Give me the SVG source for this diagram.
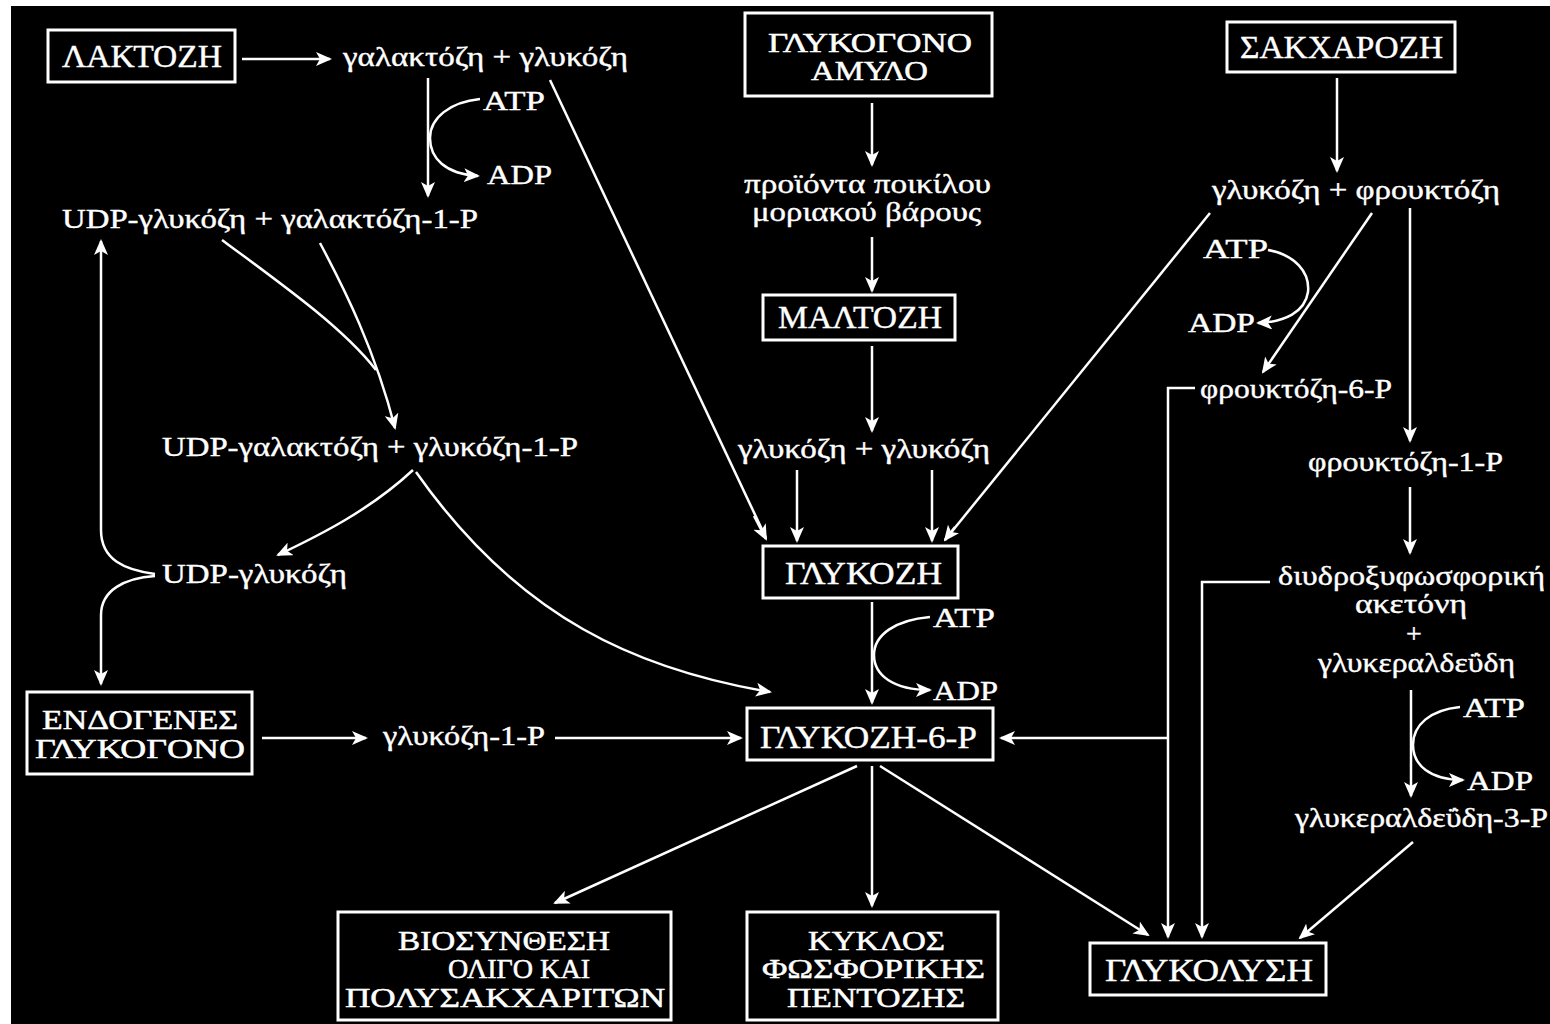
<svg xmlns="http://www.w3.org/2000/svg" width="1550" height="1024" viewBox="0 0 1550 1024">
<defs>
<marker id="ah" markerUnits="userSpaceOnUse" markerWidth="16" markerHeight="14" refX="14" refY="7" orient="auto">
<path d="M0,0 L16,7 L0,14 L4,7 Z" fill="#fff"/>
</marker>
<style>
.bx{fill:none;stroke:#fff;stroke-width:3}
.c{font-family:"Liberation Serif","Times New Roman",serif;font-size:31px;fill:#fff;stroke:#fff;stroke-width:0.4}
.m{font-family:"Liberation Serif","Times New Roman",serif;font-size:28px;fill:#fff;stroke:#fff;stroke-width:0.5}
.l{font-family:"Liberation Serif","Times New Roman",serif;font-size:28px;fill:#fff;stroke:#fff;stroke-width:0.4}
.e{fill:none;stroke:#fff;stroke-width:2.5}
.a{fill:none;stroke:#fff;stroke-width:2.5;marker-end:url(#ah)}
</style>
</defs>
<rect x="0" y="0" width="1550" height="1024" fill="#fff"/>
<rect x="11" y="6" width="1539" height="1018" fill="#000"/>

<g id="n-lactose"><rect class="bx" x="48" y="30" width="187" height="52"/><text class="c" x="62" y="67" textLength="160" lengthAdjust="spacingAndGlyphs">ΛΑΚΤΟΖΗ</text></g>
<g id="n-glycogen-starch"><rect class="bx" x="745" y="13" width="247" height="83"/><text class="m" x="768" y="52" textLength="204" lengthAdjust="spacingAndGlyphs">ΓΛΥΚΟΓΟΝΟ</text><text class="m" x="811" y="80" textLength="117" lengthAdjust="spacingAndGlyphs">ΑΜΥΛΟ</text></g>
<g id="n-sucrose"><rect class="bx" x="1227" y="22" width="228" height="50"/><text class="c" x="1240" y="58" textLength="203" lengthAdjust="spacingAndGlyphs">ΣΑΚΧΑΡΟΖΗ</text></g>
<g id="n-maltose"><rect class="bx" x="763" y="295" width="192" height="45"/><text class="c" x="778" y="328" textLength="164" lengthAdjust="spacingAndGlyphs">ΜΑΛΤΟΖΗ</text></g>
<g id="n-glucose"><rect class="bx" x="763" y="546" width="195" height="52"/><text class="c" x="785" y="584" textLength="157" lengthAdjust="spacingAndGlyphs">ΓΛΥΚΟΖΗ</text></g>
<g id="n-g6p"><rect class="bx" x="747" y="708" width="246" height="52"/><text class="c" x="760" y="748" textLength="217" lengthAdjust="spacingAndGlyphs">ΓΛΥΚΟΖΗ-6-P</text></g>
<g id="n-endogenous"><rect class="bx" x="27" y="692" width="225" height="82"/><text class="m" x="42" y="729" textLength="196" lengthAdjust="spacingAndGlyphs">ΕΝΔΟΓΕΝΕΣ</text><text class="m" x="35" y="758" textLength="210" lengthAdjust="spacingAndGlyphs">ΓΛΥΚΟΓΟΝΟ</text></g>
<g id="n-biosynthesis"><rect class="bx" x="338" y="912" width="333" height="108"/><text class="m" x="398" y="950" textLength="212" lengthAdjust="spacingAndGlyphs">ΒΙΟΣΥΝΘΕΣΗ</text><text class="m" x="448" y="978" textLength="142" lengthAdjust="spacingAndGlyphs">ΟΛΙΓΟ ΚΑΙ</text><text class="m" x="345" y="1007" textLength="320" lengthAdjust="spacingAndGlyphs">ΠΟΛΥΣΑΚΧΑΡΙΤΩΝ</text></g>
<g id="n-pentose"><rect class="bx" x="747" y="912" width="251" height="108"/><text class="m" x="808" y="950" textLength="137" lengthAdjust="spacingAndGlyphs">ΚΥΚΛΟΣ</text><text class="m" x="762" y="978" textLength="223" lengthAdjust="spacingAndGlyphs">ΦΩΣΦΟΡΙΚΗΣ</text><text class="m" x="787" y="1007" textLength="178" lengthAdjust="spacingAndGlyphs">ΠΕΝΤΟΖΗΣ</text></g>
<g id="n-glycolysis"><rect class="bx" x="1090" y="943" width="236" height="52"/><text class="c" x="1105" y="981" textLength="208" lengthAdjust="spacingAndGlyphs">ΓΛΥΚΟΛΥΣΗ</text></g>

<g id="n-gal-glc"><text class="l" x="343" y="66" textLength="285" lengthAdjust="spacingAndGlyphs">γαλακτόζη + γλυκόζη</text></g>
<g id="n-udpglc-gal1p"><text class="l" x="62" y="228" textLength="416" lengthAdjust="spacingAndGlyphs">UDP-γλυκόζη + γαλακτόζη-1-P</text></g>
<g id="n-udpgal-glc1p"><text class="l" x="162" y="456" textLength="416" lengthAdjust="spacingAndGlyphs">UDP-γαλακτόζη + γλυκόζη-1-P</text></g>
<g id="n-udpglc"><text class="l" x="162" y="583" textLength="185" lengthAdjust="spacingAndGlyphs">UDP-γλυκόζη</text></g>
<g id="n-glc1p"><text class="l" x="383" y="745" textLength="162" lengthAdjust="spacingAndGlyphs">γλυκόζη-1-P</text></g>
<g id="n-products"><text class="l" x="744" y="193" textLength="247" lengthAdjust="spacingAndGlyphs">προϊόντα ποικίλου</text><text class="l" x="752" y="221" textLength="229" lengthAdjust="spacingAndGlyphs">μοριακού βάρους</text></g>
<g id="n-glc-glc"><text class="l" x="738" y="458" textLength="252" lengthAdjust="spacingAndGlyphs">γλυκόζη + γλυκόζη</text></g>
<g id="n-glc-fru"><text class="l" x="1212" y="199" textLength="288" lengthAdjust="spacingAndGlyphs">γλυκόζη + φρουκτόζη</text></g>
<g id="n-f6p"><text class="l" x="1200" y="398" textLength="192" lengthAdjust="spacingAndGlyphs">φρουκτόζη-6-P</text></g>
<g id="n-f1p"><text class="l" x="1308" y="471" textLength="195" lengthAdjust="spacingAndGlyphs">φρουκτόζη-1-P</text></g>
<g id="n-dhap-gly"><text class="l" x="1278" y="585" textLength="267" lengthAdjust="spacingAndGlyphs">διυδροξυφωσφορική</text><text class="l" x="1355" y="613" textLength="112" lengthAdjust="spacingAndGlyphs">ακετόνη</text><text class="l" x="1414" y="643" text-anchor="middle">+</text><text class="l" x="1318" y="672" textLength="197" lengthAdjust="spacingAndGlyphs">γλυκεραλδεΰδη</text></g>
<g id="n-gly3p"><text class="l" x="1295" y="827" textLength="253" lengthAdjust="spacingAndGlyphs">γλυκεραλδεΰδη-3-P</text></g>

<g id="cofactors">
<text class="l" x="483" y="110" textLength="62" lengthAdjust="spacingAndGlyphs">ATP</text>
<text class="l" x="487" y="184" textLength="65" lengthAdjust="spacingAndGlyphs">ADP</text>
<text class="l" x="933" y="627" textLength="62" lengthAdjust="spacingAndGlyphs">ATP</text>
<text class="l" x="933" y="700" textLength="65" lengthAdjust="spacingAndGlyphs">ADP</text>
<text class="l" x="1203" y="258" textLength="65" lengthAdjust="spacingAndGlyphs">ATP</text>
<text class="l" x="1188" y="332" textLength="67" lengthAdjust="spacingAndGlyphs">ADP</text>
<text class="l" x="1463" y="717" textLength="62" lengthAdjust="spacingAndGlyphs">ATP</text>
<text class="l" x="1467" y="790" textLength="66" lengthAdjust="spacingAndGlyphs">ADP</text>
</g>

<g id="connectors">
<path class="a" d="M242,59 L330,59"/>
<path class="a" d="M428,78 L428,196"/>
<path class="a" d="M480,99 C450,102 430,118 430,138 C430,158 445,174 478,176"/>
<path class="e" d="M550,80 L766,538"/>
<path class="a" d="M754,516 L766,539"/>
<path class="e" d="M222,240 C290,290 345,330 376,370"/>
<path class="a" d="M320,243 C345,290 375,350 395,428"/>
<path class="a" d="M413,470 C370,510 320,535 278,555"/>
<path class="a" d="M416,472 C520,620 640,670 770,692"/>
<path class="a" d="M155,574 C125,570 101,560 101,530 L101,241"/>
<path class="a" d="M155,576 C125,578 101,590 101,615 L101,684"/>
<path class="a" d="M262,738 L366,738"/>
<path class="a" d="M555,738 L741,738"/>
<path class="a" d="M872,103 L872,165"/>
<path class="a" d="M872,237 L872,291"/>
<path class="a" d="M872,346 L872,431"/>
<path class="a" d="M797,470 L797,541"/>
<path class="a" d="M932,470 L932,541"/>
<path class="e" d="M1210,213 L945,540"/>
<path class="a" d="M955,527 L945,540"/>
<path class="a" d="M872,602 L872,703"/>
<path class="a" d="M930,617 C895,620 874,635 874,655 C874,675 893,690 930,690"/>
<path class="a" d="M1337,78 L1337,171"/>
<path class="a" d="M1372,213 L1263,372"/>
<path class="a" d="M1268,250 C1295,255 1310,272 1308,292 C1305,312 1285,322 1258,323"/>
<path class="a" d="M1410,208 L1410,441"/>
<path class="a" d="M1410,487 L1410,553"/>
<path class="a" d="M1195,388 L1168,388 L1168,937"/>
<path class="a" d="M1168,738 L1001,738"/>
<path class="a" d="M1270,582 L1202,582 L1202,937"/>
<path class="a" d="M1411,690 L1411,796"/>
<path class="a" d="M1460,707 C1430,710 1413,725 1413,745 C1413,765 1430,780 1463,780"/>
<path class="a" d="M1413,842 L1300,938"/>
<path class="a" d="M857,766 L555,903"/>
<path class="a" d="M872,766 L872,906"/>
<path class="a" d="M880,766 L1148,935"/>
</g>
</svg>
